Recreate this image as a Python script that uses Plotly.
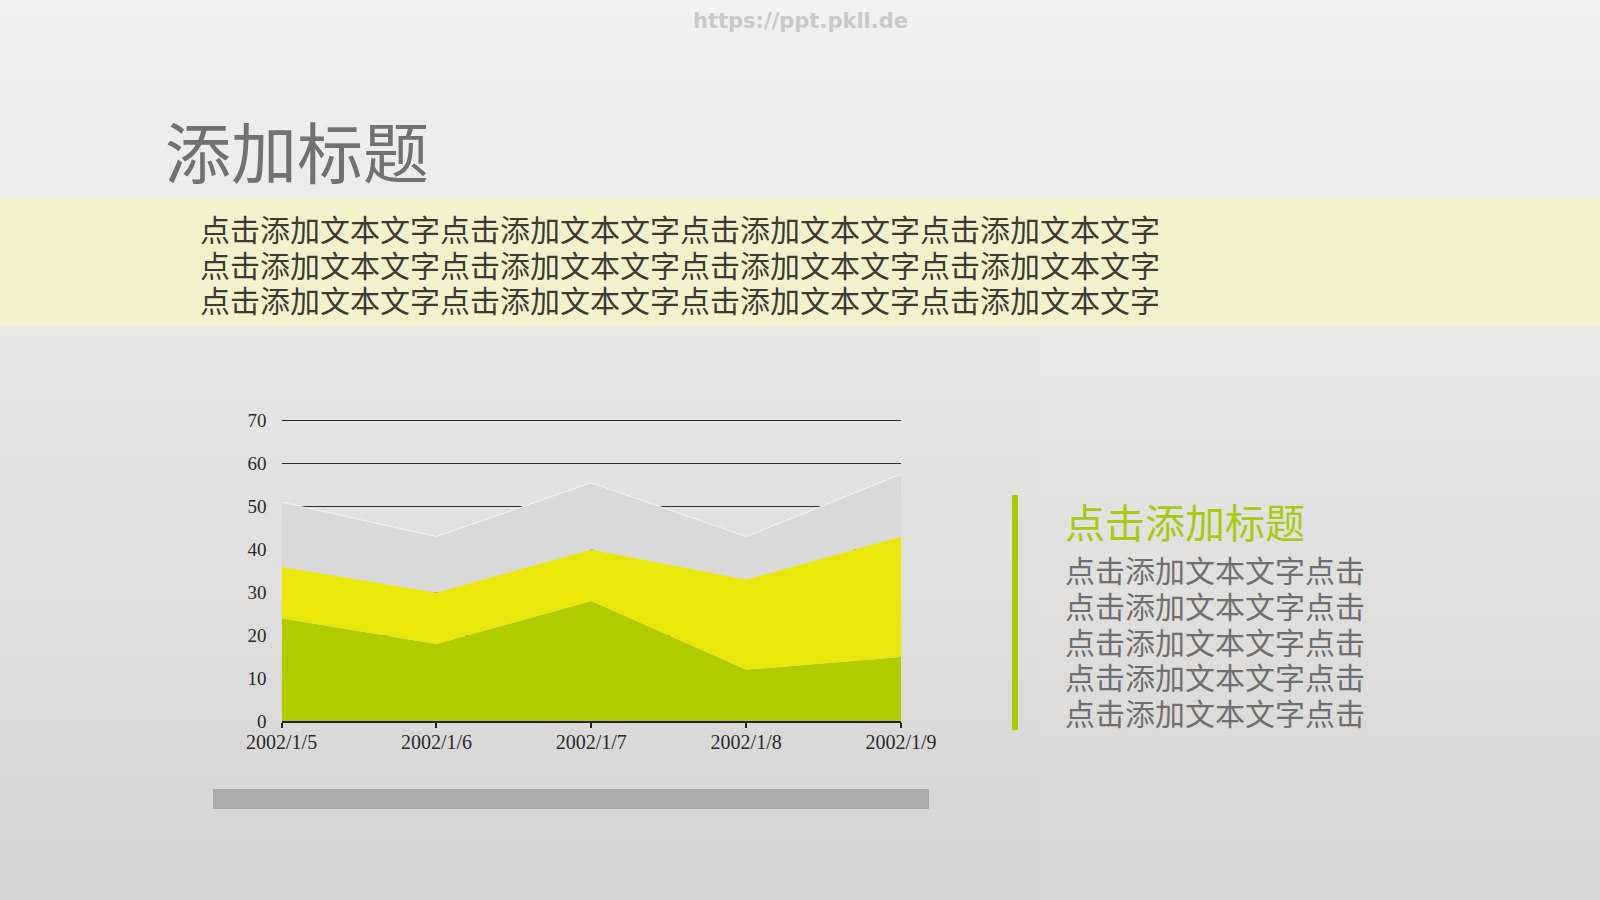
import plotly.graph_objects as go

# ---- data ----
dates = ["2002/1/5", "2002/1/6", "2002/1/7", "2002/1/8", "2002/1/9"]
series_green = [24, 18, 28, 12, 15]
series_yellow = [12, 12, 12, 21, 28]
series_gray = [15, 13, 15.5, 10, 14.5]
y_ticks = [0, 10, 20, 30, 40, 50, 60, 70]

title_text = "添加标题"
band_lines = ["点击添加文本文字点击添加文本文字点击添加文本文字点击添加文本文字"] * 3
side_title = "点击添加标题"
side_lines = ["点击添加文本文字点击"] * 5
url_text = "https://ppt.pkll.de"

W, H = 1600, 900
def px(x):
    return x / W
def py(y):
    return 1 - y / H

fig = go.Figure()
fig.add_trace(go.Scatter(x=dates, y=series_green, stackgroup="one", mode="lines",
                         line=dict(width=0, color="#b0cc00"), fillcolor="#b0cc00",
                         name="s1"))
fig.add_trace(go.Scatter(x=dates, y=series_yellow, stackgroup="one", mode="lines",
                         line=dict(width=0, color="#e9e80a"), fillcolor="#e9e80a",
                         name="s2"))
fig.add_trace(go.Scatter(x=dates, y=series_gray, stackgroup="one", mode="lines",
                         line=dict(width=1, color="rgba(250,250,250,0.8)"), fillcolor="#dad9da",
                         name="s3"))

shapes = []
# background gradient
top = (242, 241, 241)
bot = (214, 213, 212)
n = 45
for i in range(n):
    t = i / (n - 1)
    c = tuple(round(top[k] + (bot[k] - top[k]) * t) for k in range(3))
    shapes.append(dict(type="rect", xref="paper", yref="paper", x0=0, x1=1,
                       y0=py((i + 1) * 20), y1=py(i * 20),
                       fillcolor="rgb(%d,%d,%d)" % c, line=dict(width=0), layer="below"))
# lighter right-bottom panel
shapes.append(dict(type="rect", xref="paper", yref="paper", x0=px(1040), x1=1,
                   y0=0, y1=py(330), fillcolor="rgba(255,255,255,0.05)",
                   line=dict(width=0), layer="below"))
# yellow band
shapes.append(dict(type="rect", xref="paper", yref="paper", x0=0, x1=1,
                   y0=py(326), y1=py(198), fillcolor="#f3f1cb",
                   line=dict(width=0), layer="below"))
# gray bar under chart
shapes.append(dict(type="rect", xref="paper", yref="paper", x0=px(213), x1=px(929),
                   y0=py(809), y1=py(789), fillcolor="#acaba9",
                   line=dict(width=0), layer="above"))
# green vertical bar
shapes.append(dict(type="rect", xref="paper", yref="paper", x0=px(1012), x1=px(1018),
                   y0=py(730), y1=py(495), fillcolor="#a9cc00",
                   line=dict(width=0), layer="above"))

annotations = []
annotations.append(dict(text=url_text, x=px(800), y=py(21), xref="paper", yref="paper",
                        xanchor="center", yanchor="middle", showarrow=False,
                        font=dict(family="DejaVu Sans", size=21, color="#c9c9c9",
                                  weight="bold")))
annotations.append(dict(text=title_text, x=px(163), y=py(149), xref="paper", yref="paper",
                        xanchor="left", yanchor="middle", showarrow=False,
                        font=dict(family="Noto Sans CJK SC", size=66, color="#717171")))
for i, line in enumerate(band_lines):
    annotations.append(dict(text=line, x=px(198), y=py(228 + i * 35.7), xref="paper",
                            yref="paper", xanchor="left", yanchor="middle", showarrow=False,
                            font=dict(family="Noto Sans CJK SC", size=30, color="#3d3a35")))
annotations.append(dict(text=side_title, x=px(1063), y=py(521), xref="paper", yref="paper",
                        xanchor="left", yanchor="middle", showarrow=False,
                        font=dict(family="Noto Sans CJK SC", size=40, color="#a8cb12")))
for i, line in enumerate(side_lines):
    annotations.append(dict(text=line, x=px(1063), y=py(569 + i * 35.8), xref="paper",
                            yref="paper", xanchor="left", yanchor="middle", showarrow=False,
                            font=dict(family="Noto Sans CJK SC", size=30, color="#6f6f6f")))

fig.update_layout(
    width=W, height=H,
    margin=dict(l=0, r=0, t=0, b=0, pad=0, autoexpand=False),
    paper_bgcolor="#e6e5e5",
    plot_bgcolor="rgba(0,0,0,0)",
    showlegend=False,
    shapes=shapes,
    annotations=annotations,
    xaxis=dict(domain=[px(281.6), px(901)], type="category", range=[0, 4],
               automargin=False,
               showgrid=False, showline=True, linecolor="#222222", linewidth=1.5,
               ticks="outside", ticklen=5, tickcolor="#222222", tickwidth=1.5,
               ticklabelstandoff=-3,
               tickfont=dict(family="Liberation Serif", size=20, color="#2a2a2a"),
               zeroline=False, fixedrange=True),
    yaxis=dict(domain=[py(721.4), py(419.4)], range=[0, 70.25], tickvals=y_ticks,
               automargin=False,
               showgrid=True, gridcolor="#303030", gridwidth=1,
               showline=False, zeroline=False, ticks="",
               ticklabelstandoff=14,
               tickfont=dict(family="Liberation Serif", size=19, color="#2a2a2a"),
               fixedrange=True),
)

fig.write_html("out.html", config={"displayModeBar": False},
               post_script="document.body.style.margin='0';document.body.style.overflow='hidden';")
